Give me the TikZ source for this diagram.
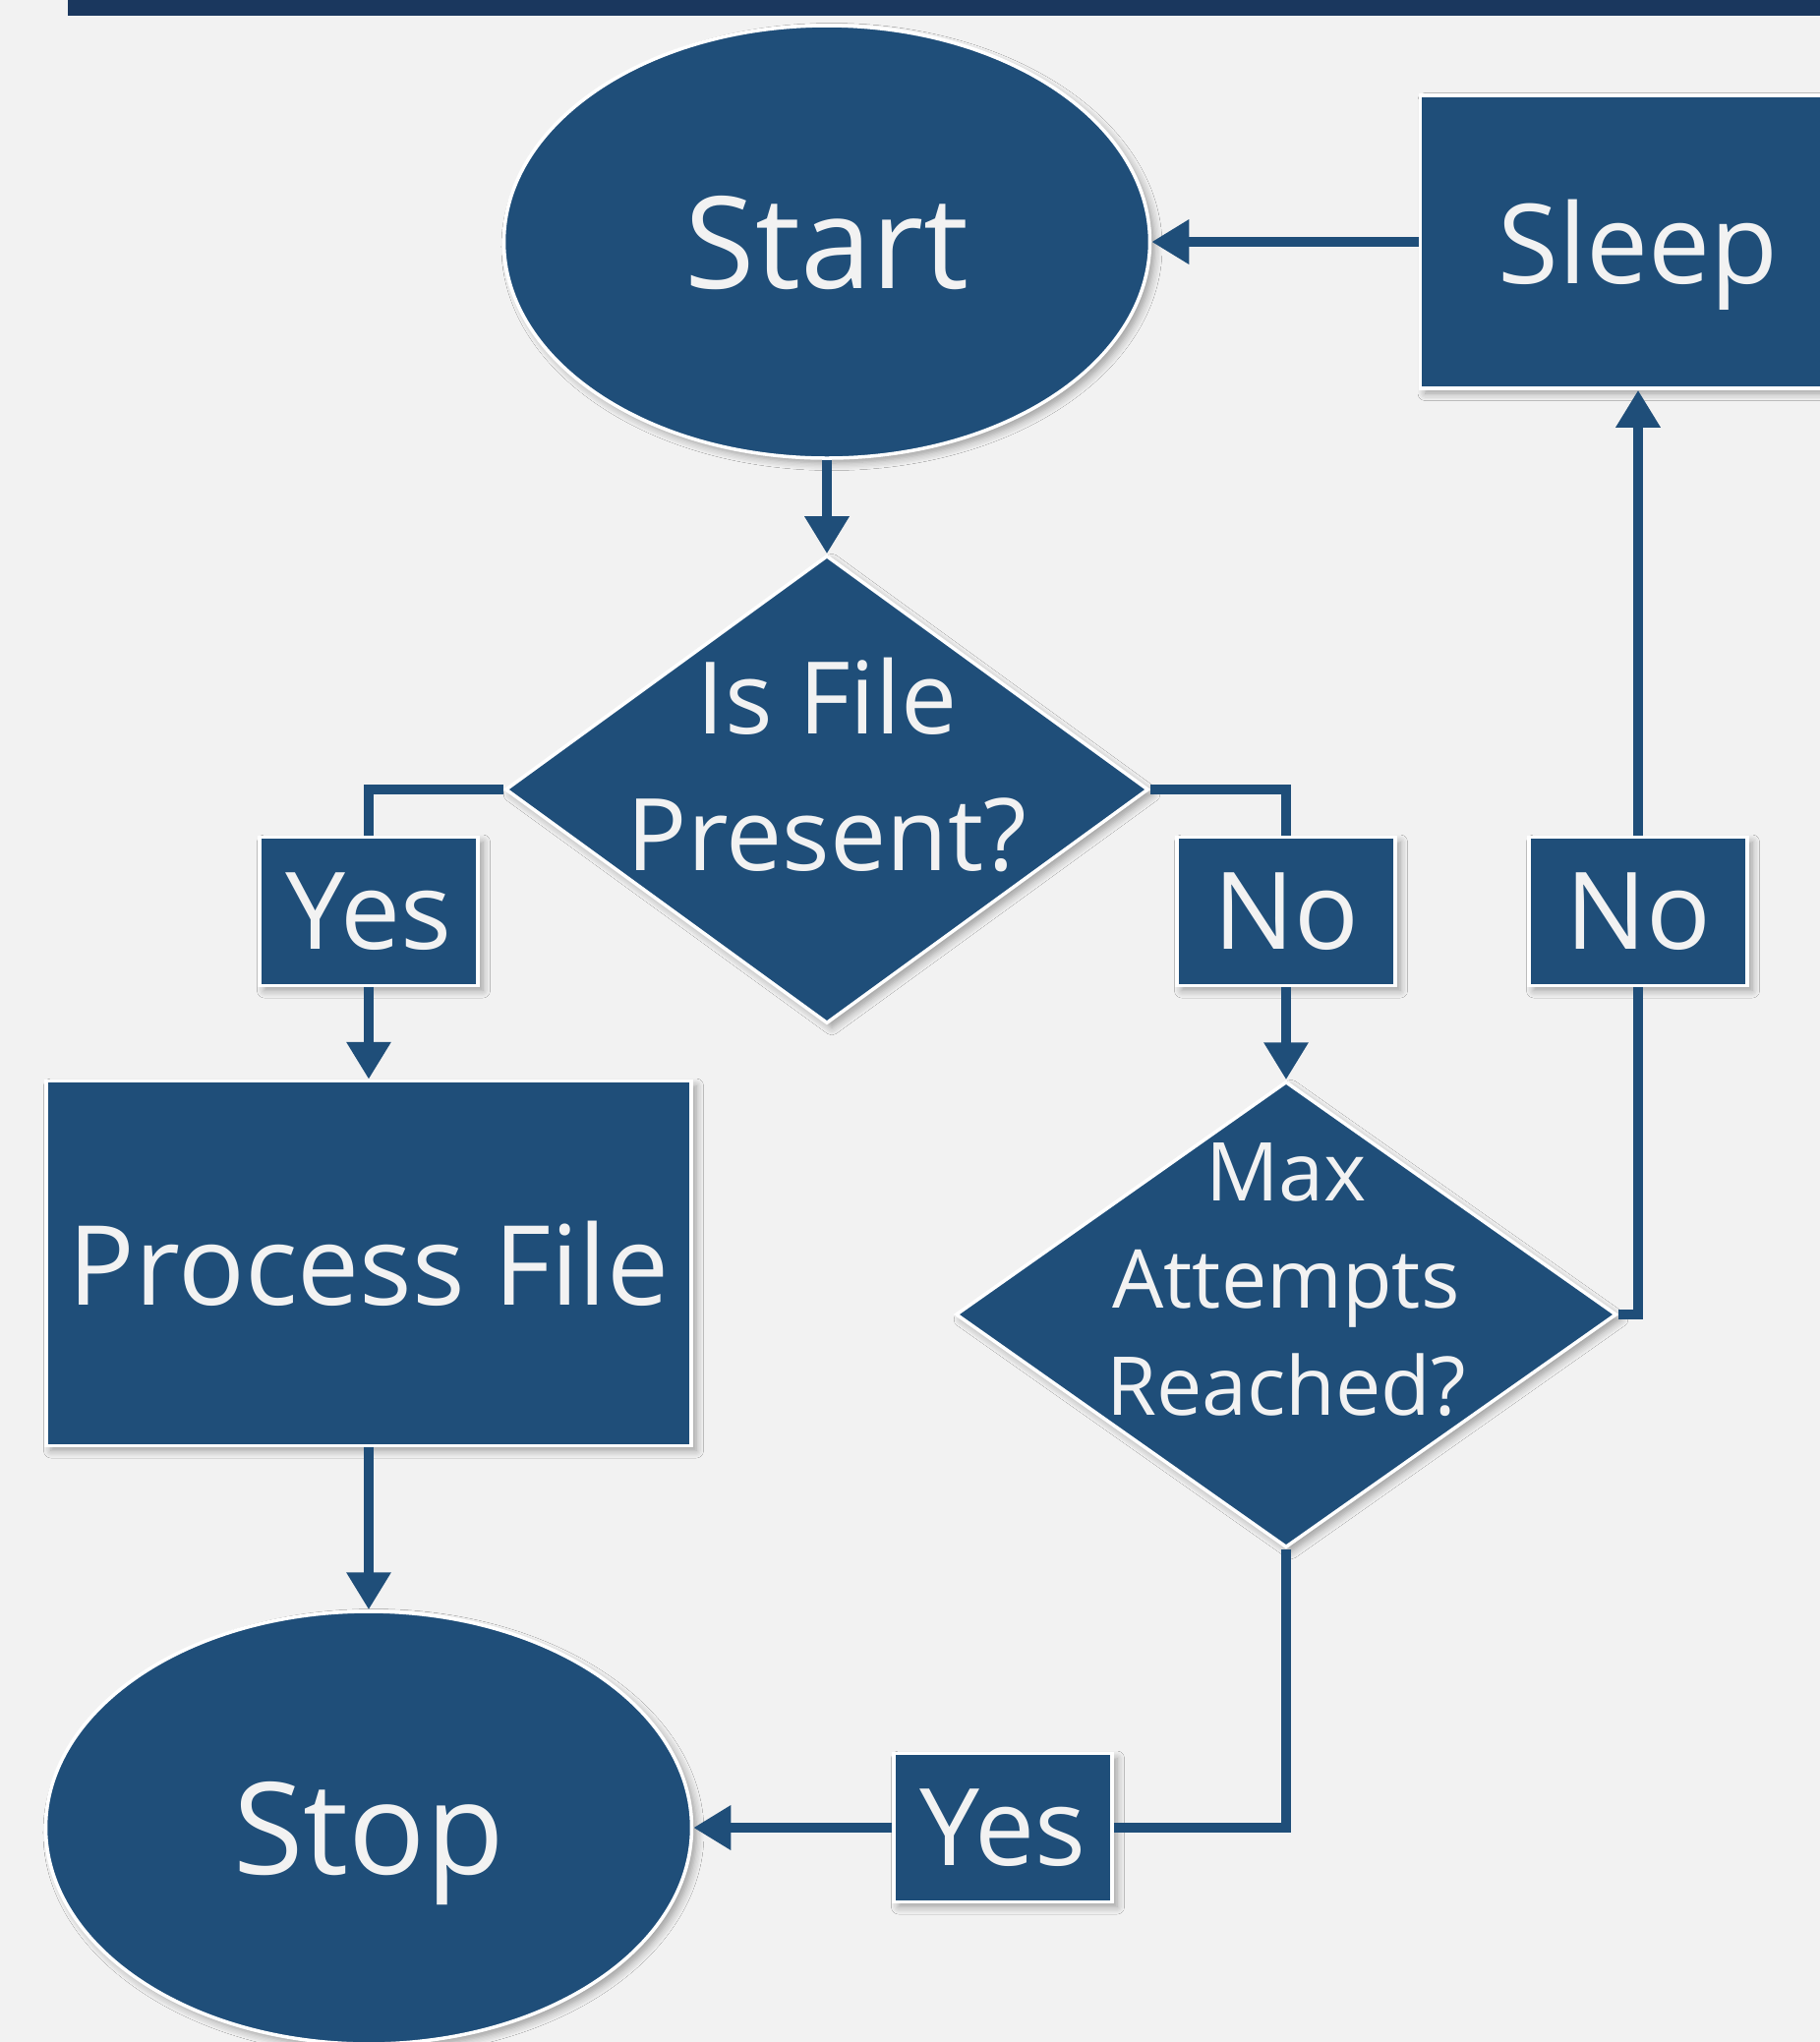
\documentclass[tikz,border=0pt]{standalone}
\usepackage{fontspec}
\setmainfont{Open Sans}
\usetikzlibrary{shapes.geometric, arrows.meta, positioning, shadows.blur}
\definecolor{boxblue}{HTML}{1F4E79}
\definecolor{barblue}{HTML}{1A375E}
\definecolor{paper}{HTML}{F2F2F2}

\tikzset{
  base/.style={fill=boxblue, draw=white, line width=1pt, text=paper, inner sep=0pt, text depth=0pt,
    blur shadow={shadow xshift=0.5mm, shadow yshift=-0.5mm, shadow blur steps=6, shadow opacity=35}},
  term/.style={base, ellipse, minimum width=6.57cm, minimum height=4.40cm, font=\fontsize{37}{44}\selectfont},
  proc/.style={base, rectangle, font=\fontsize{32}{38}\selectfont},
  decide/.style={base, diamond},
  inside/.style={text=paper, align=center},
  tag/.style={base, rectangle, minimum width=2.22cm, minimum height=1.51cm, font=\fontsize{31}{36}\selectfont},
  link/.style={draw=boxblue, line width=1.05mm},
  flow/.style={link, -{Triangle[length=3.8mm,width=4.3mm]}},
}

\begin{document}
\begin{tikzpicture}
\useasboundingbox (0,0) rectangle (18.51,-20.77);
\clip (0,0) rectangle (18.51,-20.77);
\fill[paper] (0,0) rectangle (18.51,-20.77);
\fill[barblue] (0.69,0) rectangle (18.51,-0.16);

%shapes
\node[term] (start) at (8.41,-2.46) {Start};
\node[proc, minimum width=4.43cm, minimum height=2.98cm] (sleep) at (16.66,-2.46) {Sleep};
\node[decide, minimum width=6.54cm, minimum height=4.76cm,
  label={[inside, yshift=2.5mm, font=\fontsize{29}{39.5}\selectfont]center:Is File\\Present?}] (file) at (8.41,-8.03) {};
\node[proc, minimum width=6.56cm, minimum height=3.71cm] (process) at (3.75,-12.85) {Process File};
\node[decide, minimum width=6.72cm, minimum height=4.74cm,
  label={[inside, yshift=3.5mm, font=\fontsize{23.5}{31}\selectfont]center:Max\\Attempts\\Reached?}] (max) at (13.08,-13.37) {};
\node[term] (stop) at (3.75,-18.59) {Stop};

%labels
\node[tag] (yes1) at (3.75,-9.27) {Yes};
\node[tag] (no1) at (13.08,-9.27) {No};
\node[tag] (no2) at (16.66,-9.27) {No};
\node[tag] (yes2) at (10.20,-18.59) {Yes};

%connectors
\draw[flow] (start) -- (file);
\draw[flow] (sleep) -- (start);
\draw[link] (file.west) -| (yes1.north);
\draw[flow] (yes1) -- (process);
\draw[flow] (process) -- (stop);
\draw[link] (file.east) -| (no1.north);
\draw[flow] (no1) -- (max);
\draw[link] (max.east) -| (no2.south);
\draw[flow] (no2) -- (sleep);
\draw[link] (max.south) |- (yes2.east);
\draw[flow] (yes2) -- (stop);
\end{tikzpicture}
\end{document}
